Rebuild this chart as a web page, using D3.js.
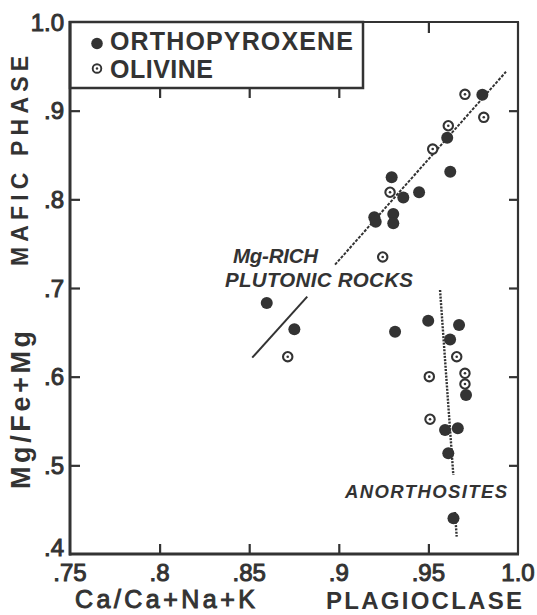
<!DOCTYPE html>
<html><head><meta charset="utf-8">
<script src="https://cdn.jsdelivr.net/npm/d3@7"></script>
<style>
html,body{margin:0;padding:0;background:#fff;}
svg{display:block;font-family:"Liberation Sans",Arial,Helvetica,sans-serif;}
</style></head>
<body>
<svg id="chart" width="537" height="615"></svg>
<script>
// ---- data ----
const opxX = [0.9801,0.9605,0.9622,0.9295,0.9448,0.9360,0.9198,0.9206,0.9304,0.9304,0.8598,0.8752,0.9314,
              0.9499,0.9671,0.9621,0.9710,0.9593,0.9664,0.9611,0.9640];
const opxY = [0.918,0.8695,0.831,0.8248,0.808,0.802,0.7797,0.7748,0.7834,0.773,0.683,0.6535,0.6507,
              0.663,0.6583,0.642,0.5793,0.5398,0.5417,0.5136,0.4403];
const olX = [0.9704,0.9809,0.9611,0.9524,0.9286,0.9245,0.8715,0.9658,0.9505,0.9704,0.9704,0.9509];
const olY = [0.9184,0.8925,0.883,0.8567,0.808,0.735,0.6225,0.6225,0.600,0.6038,0.5917,0.552];
// trend lines (segments, interrupted by labels)
const plutonicX = [[0.8517,0.8824],[0.8979,0.9933]];
const plutonicY = [[0.6214,0.6902],[0.7263,0.9439]];
const anorthX = [[0.9565,0.9639],[0.9648,0.9658]];
const anorthY = [[0.6977,0.4891],[0.4474,0.4195]];
const xTicks = [0.75,0.8,0.85,0.9,0.95,1.0];
const xTickLabels = [".75",".8",".85",".9",".95","1.0"];
const yTicks = [0.4,0.5,0.6,0.7,0.8,0.9,1.0];
const yTickLabels = [".4",".5",".6",".7",".8",".9","1.0"];
const legendLabels = ["ORTHOPYROXENE","OLIVINE"];

const ink = "#333";
const svg = d3.select("#chart");
const L=70,R=518,T=22,B=554;
const x = d3.scaleLinear().domain([0.75,1.0]).range([L,R]);
const y = d3.scaleLinear().domain([0.4,1.0]).range([B,T]);
const innerX = xTicks.slice(1,-1), innerY = yTicks.slice(1,-1);

function styleAxis(g){
  g.select(".domain").remove();
  g.selectAll(".tick line").attr("stroke",ink).attr("stroke-width",2.2);
  g.selectAll(".tick text").remove();
}
// inward ticks
svg.append("g").attr("transform",`translate(${L},0)`).call(d3.axisLeft(y).tickValues(innerY).tickSize(-10)).call(styleAxis);
svg.append("g").attr("transform",`translate(${R},0)`).call(d3.axisRight(y).tickValues(innerY).tickSize(-9)).call(styleAxis);
svg.append("g").attr("transform",`translate(0,${B})`).call(d3.axisBottom(x).tickValues(innerX).tickSize(-10)).call(styleAxis);
svg.append("g").attr("transform",`translate(0,${T})`).call(d3.axisTop(x).tickValues(innerX).tickSize(-11)).call(styleAxis);

// legend box (covers top ticks)
const legW=293, legH=66;
svg.append("rect").attr("x",L).attr("y",T).attr("width",legW).attr("height",legH)
  .attr("fill","#fff").attr("stroke",ink).attr("stroke-width",2.5);
// ticks re-drawn under legend box
svg.append("g").attr("transform",`translate(0,${T+legH})`)
  .call(d3.axisTop(x).tickValues(innerX.filter(v=>x(v)<L+legW)).tickSize(-10)).call(styleAxis);

// frame
svg.append("line").attr("x1",L).attr("x2",L).attr("y1",T-1).attr("y2",B+1.5).attr("stroke",ink).attr("stroke-width",3);
svg.append("line").attr("x1",L-1).attr("x2",R+1).attr("y1",B).attr("y2",B).attr("stroke",ink).attr("stroke-width",3);
svg.append("line").attr("x1",L).attr("x2",R+1).attr("y1",T).attr("y2",T).attr("stroke",ink).attr("stroke-width",2.2);
svg.append("line").attr("x1",R).attr("x2",R).attr("y1",T).attr("y2",B).attr("stroke",ink).attr("stroke-width",2.2);

// tick labels (medium weight: regular + thin outline)
const med = sel => sel.attr("fill",ink).attr("stroke",ink).attr("stroke-width",1);
svg.append("g").selectAll("text").data(xTicks).join("text")
  .attr("x",d=>x(d)).attr("y",581).attr("text-anchor","middle")
  .attr("font-size",24).call(med).text((d,i)=>xTickLabels[i]);
svg.append("g").selectAll("text").data(yTicks).join("text")
  .attr("x",64).attr("y",d=>y(d)+8.5 - (d===0.4?7:0)).attr("text-anchor","end")
  .attr("font-size",24).call(med).text((d,i)=>yTickLabels[i]);

// axis titles
svg.append("text").attr("transform","translate(28,161) rotate(-90)").attr("text-anchor","middle")
  .attr("font-size",23).attr("font-weight","bold").attr("fill",ink)
  .attr("textLength",210).attr("lengthAdjust","spacing").text("MAFIC  PHASE");
svg.append("text").attr("transform","translate(30,410) rotate(-90)").attr("text-anchor","middle")
  .attr("font-size",27).attr("font-weight","bold").attr("fill",ink)
  .attr("textLength",158).attr("lengthAdjust","spacing").text("Mg/Fe+Mg");
svg.append("text").attr("x",75).attr("y",608)
  .attr("font-size",25).call(med)
  .attr("textLength",180).attr("lengthAdjust","spacing").text("Ca/Ca+Na+K");
svg.append("text").attr("x",326).attr("y",609)
  .attr("font-size",24).attr("font-weight","bold").attr("fill",ink)
  .attr("textLength",196).attr("lengthAdjust","spacing").text("PLAGIOCLASE");

// legend entries
svg.append("circle").attr("cx",97).attr("cy",43.5).attr("r",5.8).attr("fill",ink);
svg.append("circle").attr("cx",97).attr("cy",68.5).attr("r",4.3).attr("fill","#fff").attr("stroke",ink).attr("stroke-width",1.9);
svg.append("circle").attr("cx",97).attr("cy",68.5).attr("r",1.2).attr("fill",ink);
svg.append("text").attr("x",110).attr("y",50).attr("font-size",25).attr("font-weight","bold").attr("fill",ink)
  .attr("textLength",243).attr("lengthAdjust","spacing").text(legendLabels[0]);
svg.append("text").attr("x",110).attr("y",78).attr("font-size",25).attr("font-weight","bold").attr("fill",ink)
  .attr("textLength",103).attr("lengthAdjust","spacing").text(legendLabels[1]);

// trend lines
const line = d3.line().x(d=>x(d[0])).y(d=>y(d[1]));
plutonicX.forEach((xs,i)=>{
  svg.append("path").attr("d",line(xs.map((v,j)=>[v,plutonicY[i][j]])))
    .attr("stroke",ink).attr("stroke-width",2).attr("fill","none")
    .attr("stroke-dasharray", i===0 ? null : "3,1.4");
});
anorthX.forEach((xs,i)=>{
  svg.append("path").attr("d",line(xs.map((v,j)=>[v,anorthY[i][j]])))
    .attr("stroke",ink).attr("stroke-width",2.4).attr("fill","none")
    .attr("stroke-dasharray","2,1.3");
});

// annotations
const ann = svg.append("g").attr("font-weight","bold").attr("font-style","italic").attr("fill",ink);
ann.append("text").attr("x",233).attr("y",263).attr("font-size",20.5).attr("textLength",85).attr("lengthAdjust","spacing").text("Mg-RICH");
ann.append("text").attr("x",225).attr("y",287).attr("font-size",20.5).attr("textLength",188).attr("lengthAdjust","spacing").text("PLUTONIC ROCKS");
ann.append("text").attr("x",345).attr("y",498).attr("font-size",18.5).attr("textLength",162).attr("lengthAdjust","spacing").text("ANORTHOSITES");

// points
svg.append("g").selectAll("circle").data(opxX).join("circle")
  .attr("cx",d=>x(d)).attr("cy",(d,i)=>y(opxY[i])).attr("r",6).attr("fill",ink);
const ol = svg.append("g").selectAll("g").data(olX).join("g")
  .attr("transform",(d,i)=>`translate(${x(d)},${y(olY[i])})`);
ol.append("circle").attr("r",4.7).attr("fill","#fff").attr("stroke",ink).attr("stroke-width",2.1);
ol.append("circle").attr("r",1.3).attr("fill",ink);
</script>
</body></html>
